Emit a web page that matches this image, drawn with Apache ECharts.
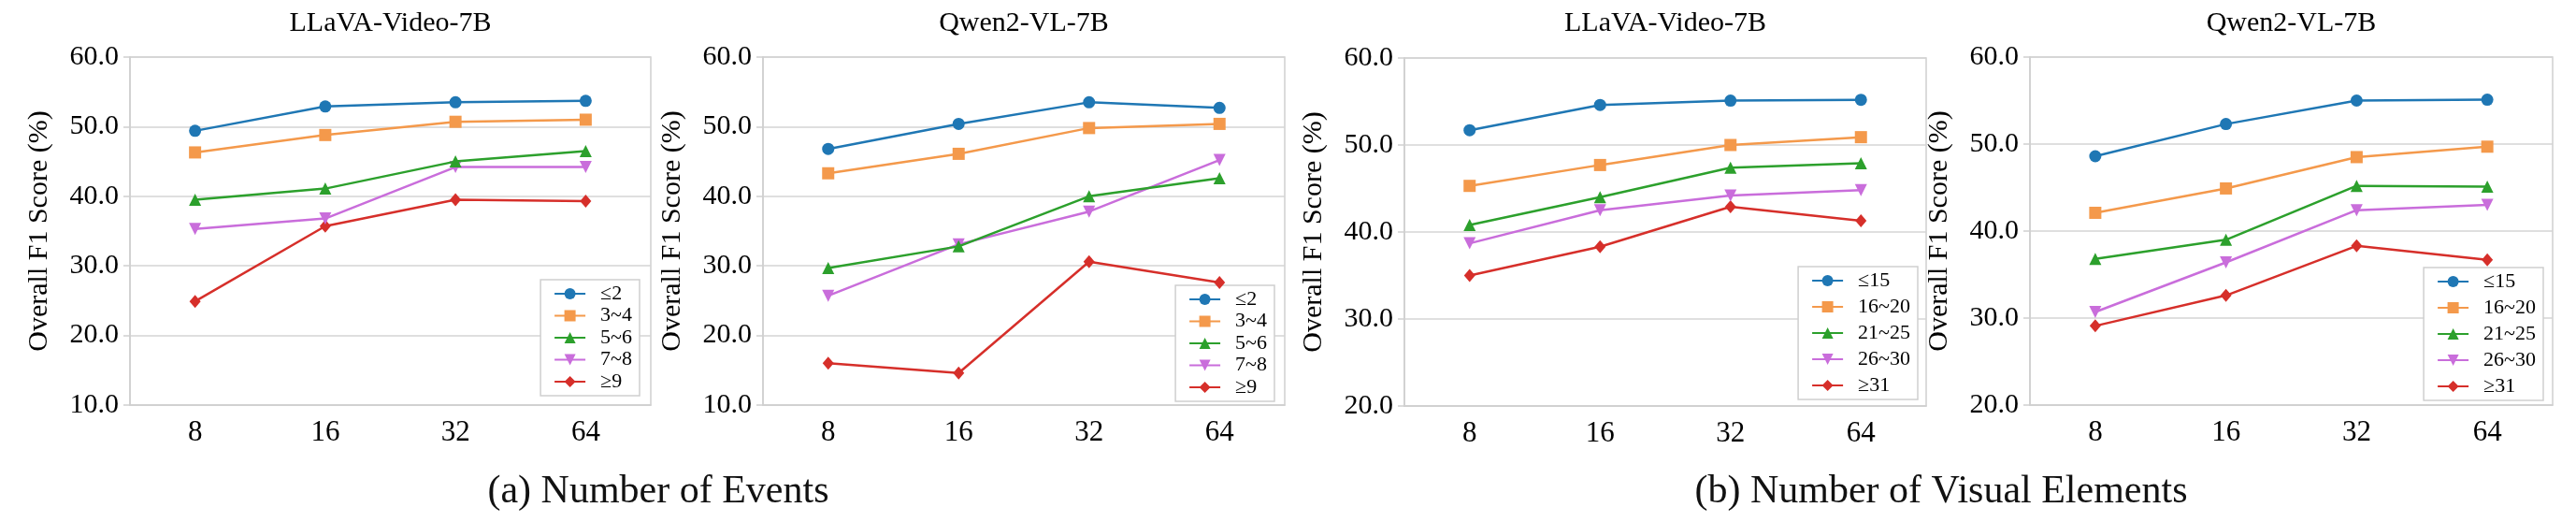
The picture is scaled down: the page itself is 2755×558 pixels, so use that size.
<!DOCTYPE html>
<html>
<head>
<meta charset="utf-8">
<script src="https://cdn.jsdelivr.net/npm/echarts@6/dist/echarts.min.js"></script>
<style>
  html, body { margin: 0; padding: 0; background: #fff; }
  #chart { width: 2755px; height: 558px; }
</style>
</head>
<body>
<div id="chart"></div>
<script>
'use strict';

// x categories: number of frames
const frames = ['8', '16', '32', '64'];

// legend groups
const eventGroups = ['≤2', '3~4', '5~6', '7~8', '≥9'];
const elementGroups = ['≤15', '16~20', '21~25', '26~30', '≥31'];

// one row per group, one value per frame count
const llavaEvents = [
  [49.4, 52.9, 53.5, 53.7],
  [46.3, 48.8, 50.7, 51.0],
  [39.5, 41.1, 45.0, 46.5],
  [35.3, 36.8, 44.2, 44.2],
  [24.9, 35.7, 39.5, 39.3]
];
const qwenEvents = [
  [46.8, 50.4, 53.5, 52.7],
  [43.3, 46.1, 49.8, 50.4],
  [29.7, 32.8, 40.0, 42.6],
  [25.7, 33.1, 37.8, 45.2],
  [16.0, 14.6, 30.6, 27.6]
];
const llavaElements = [
  [51.7, 54.6, 55.1, 55.2],
  [45.3, 47.7, 50.0, 50.9],
  [40.8, 44.0, 47.4, 47.9],
  [38.7, 42.5, 44.2, 44.8],
  [35.0, 38.3, 42.9, 41.3]
];
const qwenElements = [
  [48.6, 52.3, 55.0, 55.1],
  [42.1, 44.9, 48.5, 49.7],
  [36.8, 39.0, 45.2, 45.1],
  [30.7, 36.4, 42.4, 43.0],
  [29.1, 32.6, 38.3, 36.7]
];

const colors = ['#1f77b4', '#f4994b', '#2ca02c', '#c96ddb', '#d62f2a'];
const symbols = ['circle', 'rect', 'triangle', 'triangle', 'diamond'];
const rotates = [0, 0, 0, 180, 0];
const font = 'Liberation Serif';

const panels = [
  {title: 'LLaVA-Video-7B', groups: eventGroups, data: llavaEvents, min: 10,
   left: 139, top: 61, width: 557, lgRight: 2071, lgBottom: 135, lgGap: 1.5},
  {title: 'Qwen2-VL-7B', groups: eventGroups, data: qwenEvents, min: 10,
   left: 816, top: 61, width: 558, lgRight: 1392, lgBottom: 129, lgGap: 1.5},
  {title: 'LLaVA-Video-7B', groups: elementGroups, data: llavaElements, min: 20,
   left: 1502, top: 62, width: 558, lgRight: 704, lgBottom: 131, lgGap: 6},
  {title: 'Qwen2-VL-7B', groups: elementGroups, data: qwenElements, min: 20,
   left: 2171, top: 61, width: 559, lgRight: 35, lgBottom: 130, lgGap: 6}
];
const plotHeight = 372;

const grid = [], xAxis = [], yAxis = [], series = [], legend = [], graphic = [];

panels.forEach((p, i) => {
  grid.push({
    left: p.left, top: p.top, width: p.width, height: plotHeight,
    show: true, borderColor: '#cfcfcf', borderWidth: 1.5
  });
  xAxis.push({
    type: 'category', gridIndex: i, data: frames, boundaryGap: true,
    axisLine: {lineStyle: {color: '#cfcfcf', width: 1.5}},
    axisTick: {alignWithLabel: true, length: 7, lineStyle: {color: '#cfcfcf', width: 1.5}},
    axisLabel: {fontSize: 31, fontFamily: font, color: '#000', margin: 14}
  });
  yAxis.push({
    type: 'value', gridIndex: i, min: p.min, max: 60, interval: 10,
    name: 'Overall F1 Score (%)', nameLocation: 'middle', nameGap: 82,
    nameTextStyle: {fontSize: 30, fontFamily: font, color: '#000'},
    axisLine: {show: true, lineStyle: {color: '#cfcfcf', width: 1.5}},
    axisTick: {show: true, length: 7, lineStyle: {color: '#cfcfcf', width: 1.5}},
    axisLabel: {fontSize: 30, fontFamily: font, color: '#000', margin: 12,
                formatter: v => v.toFixed(1)},
    splitLine: {lineStyle: {color: '#d4d4d4', width: 1.5}}
  });
  p.groups.forEach((g, k) => {
    series.push({
      type: 'line', name: g, xAxisIndex: i, yAxisIndex: i,
      data: p.data[k],
      symbol: symbols[k], symbolRotate: rotates[k],
      symbolSize: symbols[k] === 'diamond' ? [12, 14] : 13,
      color: colors[k],
      lineStyle: {width: 2.5, color: colors[k]},
      itemStyle: {color: colors[k]},
      animation: false, z: 10 - k
    });
  });
  legend.push({
    data: p.groups, orient: 'vertical',
    right: p.lgRight, bottom: p.lgBottom,
    itemWidth: 33, itemHeight: 15, itemGap: p.lgGap,
    padding: [4, 8, 4, 14],
    borderColor: '#cfcfcf', borderWidth: 1.5, borderRadius: 0,
    backgroundColor: '#fff',
    selectedMode: false,
    formatter: '  {name}',
    textStyle: {fontSize: 22, fontFamily: font, color: '#000'}
  });
  graphic.push({
    type: 'text', x: p.left + p.width / 2, y: 25,
    style: {text: p.title, fontSize: 30, fontFamily: font, fill: '#000',
            align: 'center', verticalAlign: 'middle'}
  });
});

graphic.push({
  type: 'text', x: 704, y: 526,
  style: {text: '(a) Number of Events', fontSize: 42, fontFamily: font, fill: '#111',
          align: 'center', verticalAlign: 'middle'}
});
graphic.push({
  type: 'text', x: 2076, y: 526,
  style: {text: '(b) Number of Visual Elements', fontSize: 42, fontFamily: font, fill: '#111',
          align: 'center', verticalAlign: 'middle'}
});

const chart = echarts.init(document.getElementById('chart'));
chart.setOption({
  backgroundColor: '#fff',
  animation: false,
  textStyle: {fontFamily: font},
  grid, xAxis, yAxis, series, legend, graphic
});
</script>
</body>
</html>
